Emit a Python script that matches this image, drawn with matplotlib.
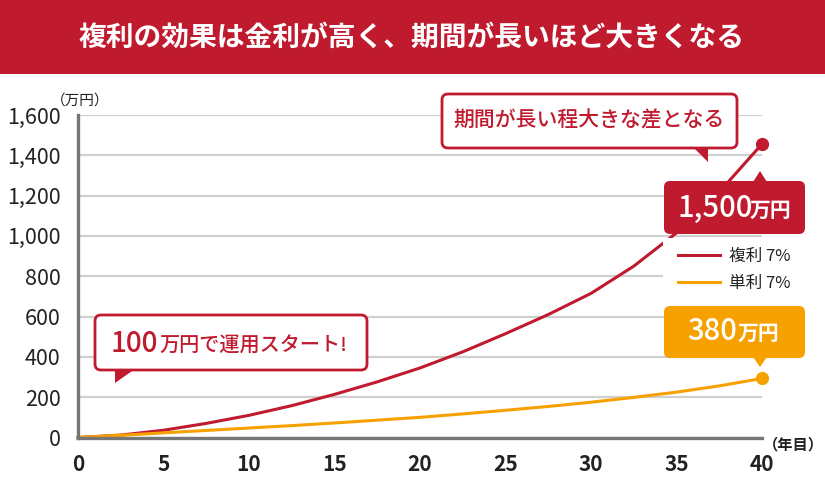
import matplotlib
matplotlib.use("Agg")
import matplotlib.pyplot as plt
from matplotlib.patches import FancyBboxPatch, Polygon, Rectangle
from matplotlib.transforms import Affine2D
from matplotlib.ticker import FuncFormatter

plt.rcParams['font.family'] = ['Noto Sans CJK JP', 'DejaVu Sans']

# ---- data ----
years = [0, 2.5, 5, 7.5, 10, 12.5, 15, 17.5, 20, 22.5, 25, 27.5, 30, 32.5, 35, 37.5, 40]
compound = [0, 12, 36, 70, 110, 158, 214, 276, 345, 425, 515, 610, 715, 850, 1015, 1218, 1456]
simple = [0, 11, 23, 35, 47, 59, 72, 86, 100, 117, 135, 154, 175, 199, 225, 256, 293]
series_names = ['複利 7%', '単利 7%']
x_ticks = [0, 5, 10, 15, 20, 25, 30, 35, 40]
y_ticks = [0, 200, 400, 600, 800, 1000, 1200, 1400, 1600]
title = '複利の効果は金利が高く、期間が長いほど大きくなる'
note_top = '期間が長い程大きな差となる'
note_start_num, note_start_txt = '100', '万円で運用スタート!'
end_compound_num, end_simple_num, unit = '1,500', '380', '万円'
y_unit, x_unit = '（万円）', '（年目）'

RED = '#C01A2E'
ORANGE = '#F7A100'
GRID = '#D0D0D0'
AX = '#767676'
TXT = '#222222'

W, H = 825, 482
fig = plt.figure(figsize=(W / 100, H / 100), dpi=100)
# pixel transform, origin at top-left
T = Affine2D().scale(1 / 100, -1 / 100).translate(0, H / 100) + fig.dpi_scale_trans

# title banner
fig.patches.append(Rectangle((0, 0), W, 74, transform=T, facecolor=RED, edgecolor='none', zorder=0))
fig.text(412, 38, title, transform=T, color='white', fontsize=20, fontweight='bold',
         ha='center', va='center')

# axes
left, right, top, bottom = 78, 762, 115, 437.5
ax = fig.add_axes([left / W, 1 - bottom / H, (right - left) / W, (bottom - top) / H])
ax.set_xlim(0, 40)
ax.set_ylim(0, 1600)
ax.set_xticks(x_ticks)
ax.set_yticks(y_ticks)
ax.yaxis.set_major_formatter(FuncFormatter(lambda v, p: f'{int(v):,}'))
ax.tick_params(length=0, colors=TXT)
ax.tick_params(axis='y', pad=12.5, labelsize=15.5)
ax.tick_params(axis='x', pad=12, labelsize=15)
for lab in ax.get_xticklabels():
    lab.set_fontweight('bold')
ax.grid(axis='y', color=GRID, linewidth=1.6, zorder=0)
ax.set_axisbelow(True)
for s in ['top', 'right']:
    ax.spines[s].set_visible(False)
for s in ['left', 'bottom']:
    ax.spines[s].set_color(AX)
    ax.spines[s].set_linewidth(2.4)
    ax.spines[s].set_zorder(6)

l1, = ax.plot(years, compound, color=RED, lw=2.2, zorder=4, clip_on=False, label=series_names[0])
l2, = ax.plot(years, simple, color=ORANGE, lw=2.2, zorder=4, clip_on=False, label=series_names[1])
ax.plot([years[-1]], [compound[-1]], 'o', color=RED, ms=8.5, zorder=5, clip_on=False)
ax.plot([years[-1]], [simple[-1]], 'o', color=ORANGE, ms=8.5, zorder=5, clip_on=False)

# legend
fig.patches.append(Rectangle((663, 238), 142, 60, transform=T, facecolor='white',
                             edgecolor='none', zorder=1))
leg = fig.legend(handles=[l1, l2], loc='center left', bbox_to_anchor=(663, 270),
                 bbox_transform=T, frameon=False, fontsize=12, handlelength=2.5,
                 handletextpad=0.55, labelspacing=0.6, labelcolor=TXT)
leg.set_zorder(7)

# axis unit labels
fig.text(80, 101, y_unit, transform=T, fontsize=10.5, color=TXT, ha='center', va='center')
fig.text(793, 444, x_unit, transform=T, fontsize=11, color=TXT, fontweight='bold',
         ha='center', va='center')


def box(x0, y0, x1, y1, fc, ec, lw=0):
    p = FancyBboxPatch((x0, y0), x1 - x0, y1 - y0, boxstyle='round,pad=0,rounding_size=6',
                       transform=T, facecolor=fc, edgecolor=ec, linewidth=lw, zorder=8)
    fig.patches.append(p)


def tri(pts, fc):
    fig.patches.append(Polygon(pts, closed=True, transform=T, facecolor=fc, edgecolor='none', zorder=9))


# note: long period -> large difference
box(442, 94, 737, 148, 'white', RED, 2.0)
tri([(693, 147), (707.5, 147), (707.5, 162)], RED)
fig.text(589, 121, note_top, transform=T, fontsize=15, color=RED, fontweight='medium',
         ha='center', va='center', zorder=10)

# note: start with 1,000,000 yen
box(95, 315, 367, 370, 'white', RED, 2.0)
tri([(115, 369), (135, 369), (115, 383)], RED)
fig.text(111, 352, note_start_num, transform=T, fontsize=20, color=RED, fontweight='medium',
         ha='left', va='baseline', zorder=10)
fig.text(159, 352, note_start_txt, transform=T, fontsize=14.5, color=RED, fontweight='medium',
         ha='left', va='baseline', zorder=10)

# end value labels
box(664, 181, 805, 234, RED, 'none')
tri([(753, 182), (767, 182), (760, 171)], RED)
fig.text(678, 217, end_compound_num, transform=T, fontsize=21, color='white', fontweight='medium',
         ha='left', va='baseline', zorder=10)
fig.text(750, 217, unit, transform=T, fontsize=15, color='white', fontweight='bold',
         ha='left', va='baseline', zorder=10)

box(664, 306, 805, 358, ORANGE, 'none')
tri([(753, 357), (767, 357), (760, 367)], ORANGE)
fig.text(687, 340, end_simple_num, transform=T, fontsize=21, color='white', fontweight='medium',
         ha='left', va='baseline', zorder=10)
fig.text(738, 340, unit, transform=T, fontsize=15, color='white', fontweight='bold',
         ha='left', va='baseline', zorder=10)

fig.savefig('out.png', dpi=100)
